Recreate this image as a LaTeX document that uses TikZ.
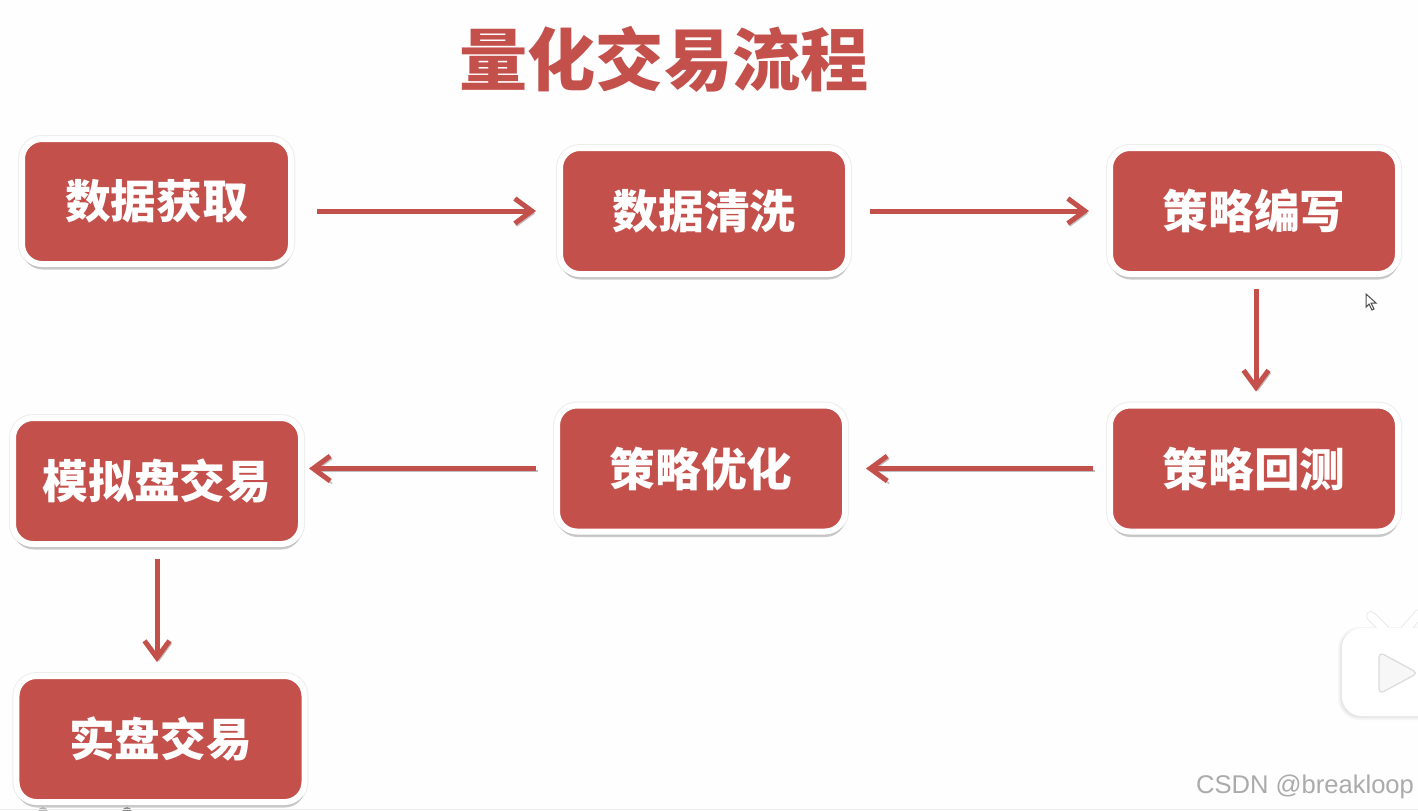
\documentclass[tikz,border=0pt]{standalone}
\usepackage{fontspec}
\setmainfont{Liberation Sans}
\newfontfamily\cjk{Noto Sans CJK SC}
\usetikzlibrary{shadows,arrows.meta}
\definecolor{flowred}{HTML}{C4504C}
\definecolor{screenwhite}{HTML}{FEFEFE}
\begin{document}
\begin{tikzpicture}[
    flowbox/.style={rectangle, rounded corners=0.2cm, fill=flowred, draw=white, line width=0.06cm,
      minimum width=2.88cm, minimum height=1.26cm, text=white,
      font=\cjk\bfseries\fontsize{13pt}{15pt}\selectfont,
      preaction={draw=black!7, line width=0.08cm},
      drop shadow={shadow xshift=0.005cm, shadow yshift=-0.055cm, fill=black!40, opacity=0.5}},
    flowarrow/.style={-{Straight Barb[length=0.17cm, width=0.25cm]}, flowred, line width=0.05cm,
      preaction={draw=black!25, transform canvas={xshift=0.02cm, yshift=-0.025cm}}}
  ]
  \useasboundingbox (0,0) rectangle (14.18,-8.10);
  \fill[screenwhite] (0,0) rectangle (14.18,-8.10);
  \node[text=flowred, font=\cjk\bfseries\fontsize{19.4pt}{23pt}\selectfont] (title) at (6.64,-0.59) {量化交易流程};
  % top row
  \node[flowbox, minimum width=2.69cm, minimum height=1.25cm] (dataget) at (1.565,-2.015) {数据获取};
  \node[flowbox] (dataclean) at (7.04,-2.11) {数据清洗};
  \node[flowbox] (stratwrite) at (12.54,-2.11) {策略编写};
  % middle row
  \node[flowbox] (stratback) at (12.54,-4.685) {策略回测};
  \node[flowbox] (stratopt) at (7.01,-4.685) {策略优化};
  \node[flowbox] (simtrade) at (1.57,-4.81) {模拟盘交易};
  % bottom
  \node[flowbox] (realtrade) at (1.605,-7.39) {实盘交易};
  % connectors
  \draw[flowarrow, shorten <=0.23cm, shorten >=0.21cm] (dataget.east |- dataclean.west) -- (dataclean.west);
  \draw[flowarrow, shorten <=0.19cm, shorten >=0.18cm] (dataclean.east) -- (stratwrite.west);
  \draw[flowarrow, shorten <=0.12cm, shorten >=0.11cm] ([xshift=0.02cm]stratwrite.south) -- ([xshift=0.02cm]stratback.north);
  \draw[flowarrow, shorten <=0.14cm, shorten >=0.18cm] (stratback.west) -- (stratopt.east);
  \draw[flowarrow, shorten <=0.18cm, shorten >=0.05cm] (stratopt.west) -- (simtrade.east |- stratopt.west);
  \draw[flowarrow, shorten <=0.12cm, shorten >=0.11cm] (simtrade.south) -- (simtrade.south |- realtrade.north);
  % screen marks
  \draw[black!70, fill=white, line width=0.01cm] (13.66,-2.94) -- (13.66,-3.07) -- (13.69,-3.04) -- (13.72,-3.10) -- (13.74,-3.09) -- (13.71,-3.03) -- (13.76,-3.03) -- cycle;
  \begin{scope}
    \clip (0,0) rectangle (14.18,-8.10);
    \fill[black!4, rounded corners=0.22cm] (13.38,-6.27) rectangle (14.6,-7.20);
    \fill[black!9, rounded corners=0.2cm] (13.40,-6.29) rectangle (14.6,-7.18);
    \draw[black!8, line width=0.1cm, line cap=round] (13.71,-6.16) -- (13.85,-6.30);
    \draw[black!8, line width=0.1cm, line cap=round] (14.19,-6.14) -- (14.05,-6.30);
    \draw[white, line width=0.08cm, line cap=round] (13.71,-6.16) -- (13.85,-6.30);
    \draw[white, line width=0.08cm, line cap=round] (14.19,-6.14) -- (14.05,-6.30);
    \fill[white, rounded corners=0.2cm] (13.42,-6.28) rectangle (14.6,-7.16);
    \draw[black!14, fill=white!97!black, line width=0.012cm, rounded corners=0.05cm] (13.79,-6.52) -- (13.79,-6.94) -- (14.18,-6.73) -- cycle;
    % bottom edge of the screen
    \fill[black!45] (1.27,-8.12) circle (0.05);
    \fill[black!30] (0.43,-8.12) circle (0.05);
    \draw[black!8, line width=0.01cm] (0,-8.09) -- (14.18,-8.09);
  \end{scope}
  \node[text=black!33, font=\fontsize{7.28pt}{9pt}\selectfont, inner sep=0pt] (mark) at (13.05,-7.87) {CSDN @breakloop};
\end{tikzpicture}
\end{document}
